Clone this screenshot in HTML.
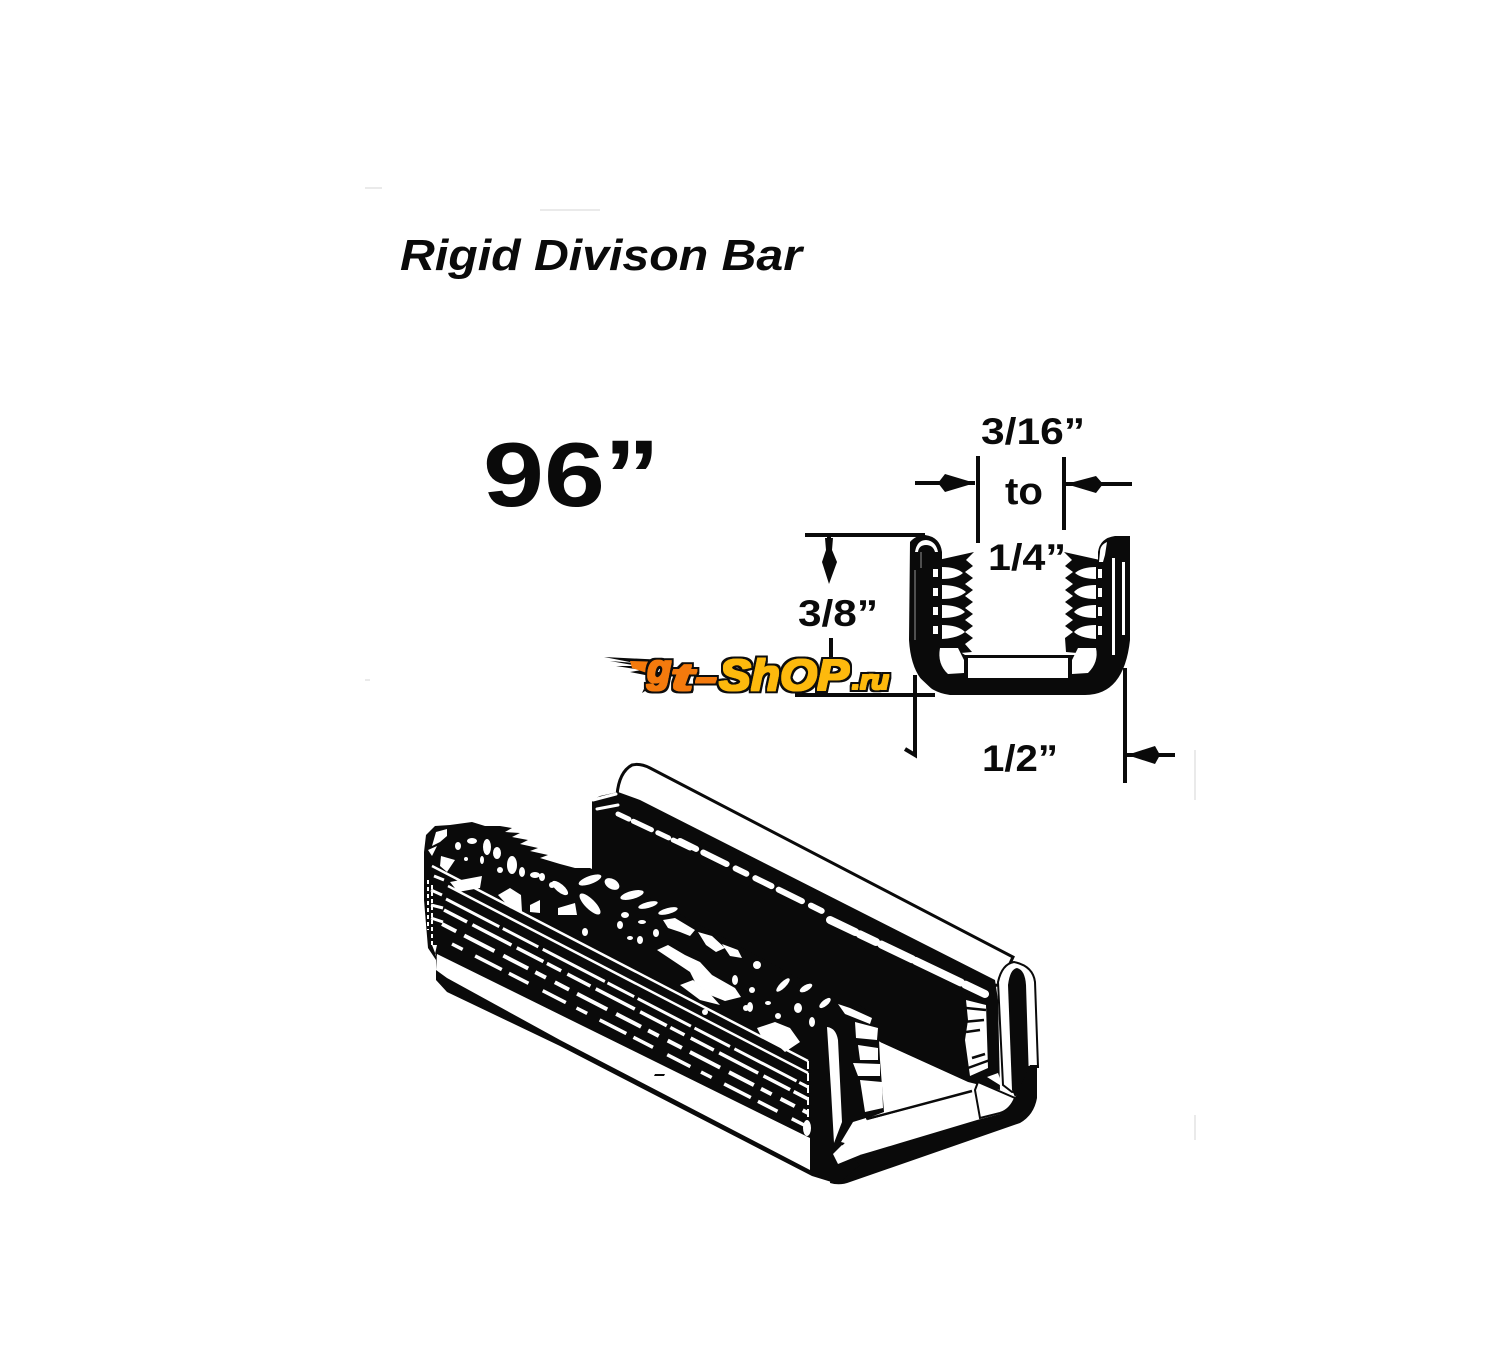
<!DOCTYPE html>
<html><head><meta charset="utf-8"><style>
html,body{margin:0;padding:0;background:#fff;width:1500px;height:1350px;overflow:hidden}
svg{display:block}
text{font-family:"Liberation Sans",sans-serif;font-weight:bold;fill:#0a0a0a}
</style></head><body>
<svg width="1500" height="1350" viewBox="0 0 1500 1350" xmlns="http://www.w3.org/2000/svg">
<defs>
<filter id="logoText" filterUnits="userSpaceOnUse" x="620" y="640" width="290" height="70">
<feMorphology in="SourceGraphic" operator="dilate" radius="1" result="fat"/>
<feMorphology in="SourceAlpha" operator="dilate" radius="3" result="outline"/>
<feFlood flood-color="#0a0a0a"/>
<feComposite in2="outline" operator="in" result="edge"/>
<feMerge><feMergeNode in="edge"/><feMergeNode in="fat"/></feMerge>
</filter>
</defs>
<rect width="1500" height="1350" fill="#fff"/>
<g stroke="#e4e4e4" stroke-width="1.5" fill="none"><path d="M365 188H382M540 210H600M1195 750V800M1195 1115V1140M365 680H370"/></g>

<text x="400" y="270" font-size="44" font-style="italic" textLength="402" lengthAdjust="spacingAndGlyphs">Rigid Divison Bar</text>
<text x="483" y="506" font-size="91" textLength="122" lengthAdjust="spacingAndGlyphs">96</text>
<text x="604" y="510" font-size="100" textLength="56" lengthAdjust="spacingAndGlyphs">”</text>
<text x="981" y="444" font-size="37" textLength="104" lengthAdjust="spacingAndGlyphs">3/16”</text>
<text x="1005" y="504" font-size="38" textLength="38" lengthAdjust="spacingAndGlyphs">to</text>
<text x="988" y="570" font-size="37" textLength="78" lengthAdjust="spacingAndGlyphs">1/4”</text>
<text x="798" y="626" font-size="37" textLength="80" lengthAdjust="spacingAndGlyphs">3/8”</text>
<text x="982" y="771" font-size="37" textLength="76" lengthAdjust="spacingAndGlyphs">1/2”</text>

<!-- dimension lines -->
<g stroke="#0a0a0a" stroke-width="4" fill="none">
<path d="M915 483H975M978 456V543M1064 457V530M1132 484H1066"/>
<path d="M805 535H925M829 536V575M831 638V662M795 695H935"/>
<path d="M915 675V755L905 749M1125 668V783M1127 755H1175"/>
</g>
<g fill="#0a0a0a">
<path d="M975 483L945 474L938 483L945 492Z"/>
<path d="M1066 484L1096 476L1103 484L1096 493Z"/>
<path d="M829 584L822 562L826 550L825 538H833L832 550L837 562Z"/>
<path d="M1127 755L1155 746L1160 755L1155 764Z"/>
</g>

<!-- profile -->
<path d="M910 542Q916 535 925 535Q940 537 942 552L942 640L965 655H1075L1098 640L1098 552Q1100 538 1115 536L1130 536V640Q1124 695 1085 695H950Q912 690 909 640Z" fill="#0a0a0a"/>
<path d="M915 552Q917 540 926 540Q936 541 938 552L935 552Q933 545 926 545Q919 545 918 552Z" fill="#fff"/>
<path d="M921 552V568M915 570V640" stroke="#666" stroke-width="1.5" fill="none"/>
<path d="M938 560L974 552L966 560L973 566L965 572L973 578L965 584L973 590L965 596L973 602L965 608L973 614L965 620L973 626L965 632L973 638L965 644L972 652L938 655Z" fill="#0a0a0a"/>
<path d="M1100 560L1064 552L1072 560L1065 566L1073 572L1065 578L1073 584L1065 590L1073 596L1065 602L1073 608L1065 614L1073 620L1065 626L1073 632L1065 638L1066 652L1100 655Z" fill="#0a0a0a"/>
<g fill="#fff">
<path d="M942 567Q956 567 963 573Q956 579 942 579ZM942 585Q958 585 966 592Q958 599 942 599ZM942 605Q958 605 965 612Q958 618 942 618ZM942 625Q958 625 965 632Q958 638 942 639Z"/>
<path d="M1096 567Q1082 567 1075 573Q1082 579 1096 579ZM1096 585Q1080 585 1074 592Q1080 599 1096 599ZM1096 605Q1080 605 1074 612Q1080 618 1096 618ZM1096 625Q1080 625 1074 632Q1080 638 1096 639Z"/>
<path d="M933 569h5v8h-5zM933 588h5v8h-5zM933 607h5v8h-5zM933 626h5v8h-5z"/>
<path d="M1098 569h4v9h-4zM1098 588h4v9h-4zM1098 607h4v9h-4zM1098 626h4v9h-4z"/>
<path d="M940 648L958 648L964 660L964 673L948 674Q937 664 940 648Z"/>
<rect x="968" y="658" width="100" height="20"/>
<path d="M1072 660L1078 648L1096 648Q1099 662 1088 673L1072 674Z"/>
<path d="M1112 558h3V655h-3zM1122 562h3V635h-3zM1100 552Q1100 545 1107 542L1105 555L1103 562H1099Z"/>
<path d="M918 676L935 692L925 693Z"/>
</g>

<!-- logo: flame shape plus real, visible text -->
<path d="M604 657L665 660L655 672L668 672L662 680L642 693L650 676L630 672L642 670L616 666L638 666L610 661L635 663Z" fill="#0a0a0a"/>
<path d="M630 661L664 662L655 674L650 686L644 690L650 674L632 668Z" fill="#f47a0c"/>
<g font-style="italic" filter="url(#logoText)">
<text x="647" y="682" font-size="40" style="fill:#f47a0c">g</text>
<text x="670" y="690" font-size="38" textLength="48" lengthAdjust="spacingAndGlyphs" style="fill:#f47a0c">t-</text>
<text x="719" y="690" font-size="44" textLength="130" lengthAdjust="spacingAndGlyphs" style="fill:#fdb90a">ShOP</text>
<text x="852" y="689" font-size="27" textLength="37" lengthAdjust="spacingAndGlyphs" style="fill:#fdb90a">.ru</text>
</g>

<!-- main bar: back top tube -->
<path d="M617 795Q619 772 632 765Q640 763 650 768L1013 957L1000 985L700 1000Z" fill="#fff" stroke="#0a0a0a" stroke-width="3"/>
<!-- back wall black -->
<path d="M592 800L600 796L618 792L640 800L995 980L998 1000L1000 1090L968 1082L882 1043L592 875Z" fill="#0a0a0a"/>
<g stroke="#fff" fill="none" stroke-linecap="round">
<path d="M593 800L616 794M597 809L618 805" stroke-width="3"/>
<path d="M618 814L690 848" stroke-width="5" stroke-dasharray="12 5 20 7"/>
<path d="M680 841L830 915" stroke-width="6" stroke-dasharray="18 8 26 10 12 10"/>
<path d="M830 920L985 994" stroke-width="8" stroke-dasharray="28 5 18 6 34 4 50 5"/>
</g>
<path d="M966 1000L986 1005L988 1068L970 1076L965 1040L968 1020Z" fill="#fff"/>
<g stroke="#0a0a0a" stroke-width="2.5" fill="none"><path d="M966 1008L986 1010M963 1022L984 1020M966 1032L980 1030M968 1068L990 1060M972 1058L985 1054"/></g>
<!-- floor -->
<path d="M882 1043L972 1084L972 1092L867 1120Z" fill="#fff"/>
<path d="M867 1119L972 1091" stroke="#0a0a0a" stroke-width="2.5"/>
<path d="M868 1120L975 1092L977 1118L870 1152Z" fill="#fff"/>
<path d="M975 1090L978 1082L1015 1098Q1010 1110 1000 1113L980 1118Z" fill="#fff" stroke="#0a0a0a" stroke-width="2"/>
<path d="M987 1077L998 1073L1003 1087Z" fill="#fff"/>
<!-- right tube -->
<path d="M998 982Q1002 964 1014 962Q1033 966 1035 982L1038 1067H1028L1030 1090L1012 1092L1003 1085Z" fill="#fff" stroke="#0a0a0a" stroke-width="2"/>
<path d="M1008 985Q1010 969 1017 968Q1025 970 1026 985L1029 1080L1015 1097L1012 1090Z" fill="#0a0a0a"/>
<!-- bottom U -->
<path d="M832 1163L870 1152L977 1120L1000 1114Q1012 1108 1016 1096L1030 1065L1037 1065L1037 1098Q1034 1115 1020 1123L850 1182Q840 1186 830 1183Z" fill="#0a0a0a"/>
<!-- left wall black body -->
<path d="M424 852L426 835L435 826L450 825L472 822L485 826L500 826L512 828L505 832L520 833L512 837L528 840L520 844L538 848L530 851L548 855L540 858L560 864L575 868L590 868L640 893L700 925L780 968L833 997L860 1005L878 1020L880 1060L884 1112L868 1118L842 1146L860 1165L838 1184Q825 1180 812 1176L560 1046L447 992L436 980L436 960L428 948L424 900Z" fill="#0a0a0a"/>
<!-- front bottom band -->
<path d="M437 954L810 1138L810 1170L560 1040L447 978L436 970Z" fill="#fff"/>
<path d="M437 945L435 954L437 958L432 945Z" fill="#fff"/>
<g fill="#0a0a0a">
<path d="M660 1056l10 -2l8 6l-6 4zM672 1064l12 2l4 8l-10 -2zM700 1070l14 6l10 10l-14 -4zM655 1074l10 0l-1 2l-10 0zM725 1088l12 4l6 8l-10 -2z"/>
</g>
<!-- stripes -->
<g stroke="#fff" fill="none">
<path d="M432 866L808 1061" stroke-width="2.5"/>
<path d="M448 886L808 1073" stroke-width="2.5"/>
<path d="M446 899L808 1087" stroke-width="3" stroke-dasharray="60 4 40 5 70 3 30 4"/>
<path d="M444 910L808 1099" stroke-width="3.5" stroke-dasharray="26 6 44 6 30 4 16 7"/>
<path d="M442 924L808 1113" stroke-width="4" stroke-dasharray="16 9 34 10 28 8 12 10"/>
<path d="M452 944L808 1127" stroke-width="3.5" stroke-dasharray="12 14 30 8 22 16 26 12"/>
<path d="M432 885V945M428 880V930" stroke-width="2" stroke-dasharray="4 3"/>
<path d="M434 876L444 880M431 890L442 895M431 905L443 908M431 918L443 922" stroke-width="3"/>
<path d="M808 1061V1125" stroke-width="2" stroke-dasharray="8 4"/>
</g>
<!-- blotches -->
<g fill="#fff">
<path d="M432 846L436 832L447 829L447 836L440 842ZM428 850L437 846L432 856ZM441 856L455 860L447 872L440 866Z"/>
<path d="M450 882L482 876L480 888L458 892ZM498 895L510 888L521 895L522 912L510 908ZM530 905L540 900L540 913L530 912ZM558 908L575 903L577 915L558 915Z"/>
<ellipse cx="458" cy="846" rx="3" ry="4"/><ellipse cx="472" cy="841" rx="5" ry="3"/><ellipse cx="487" cy="847" rx="4" ry="8"/>
<ellipse cx="497" cy="853" rx="4" ry="6"/><ellipse cx="466" cy="859" rx="2" ry="2"/><ellipse cx="482" cy="860" rx="2" ry="4"/>
<ellipse cx="512" cy="865" rx="5" ry="9"/><ellipse cx="500" cy="870" rx="3" ry="3"/><ellipse cx="522" cy="872" rx="3" ry="5"/>
<ellipse cx="535" cy="875" rx="5" ry="3"/><ellipse cx="542" cy="877" rx="3" ry="4"/>
<ellipse cx="560" cy="888" rx="10" ry="4" transform="rotate(40 560 888)"/><ellipse cx="590" cy="904" rx="14" ry="5" transform="rotate(45 590 904)"/>
<ellipse cx="552" cy="885" rx="3" ry="3"/><ellipse cx="620" cy="925" rx="3" ry="4"/><ellipse cx="585" cy="932" rx="3" ry="4"/>
<ellipse cx="640" cy="940" rx="3" ry="4"/><ellipse cx="625" cy="915" rx="4" ry="3"/><ellipse cx="656" cy="933" rx="3" ry="4"/>
<ellipse cx="642" cy="922" rx="4" ry="2"/><ellipse cx="630" cy="938" rx="3" ry="2"/>
<ellipse cx="590" cy="880" rx="12" ry="4" transform="rotate(-20 590 880)"/><ellipse cx="612" cy="884" rx="8" ry="5" transform="rotate(30 612 884)"/>
<ellipse cx="632" cy="895" rx="12" ry="4" transform="rotate(-15 632 895)"/><ellipse cx="648" cy="905" rx="10" ry="3" transform="rotate(-15 648 905)"/>
<ellipse cx="668" cy="911" rx="10" ry="3" transform="rotate(-15 668 911)"/>
<path d="M663 920L675 918L695 930L690 936L680 932L668 928ZM698 932L712 936L725 948L716 952L706 945ZM722 944L738 950L742 958L730 956Z"/>
<path d="M657 950L668 945L685 955L700 962L712 975L735 988L741 997L725 1001L710 995L695 982L690 972L675 962Z"/>
<path d="M680 985L693 980L712 996L720 1005L700 1000Z"/>
<ellipse cx="705" cy="1012" rx="3" ry="3"/>
<path d="M757 1028L775 1022L790 1028L800 1042L785 1052L775 1043L762 1038Z"/>
<ellipse cx="783" cy="985" rx="9" ry="3" transform="rotate(-45 783 985)"/><ellipse cx="757" cy="965" rx="4" ry="4"/>
<ellipse cx="806" cy="988" rx="7" ry="3" transform="rotate(-30 806 988)"/><ellipse cx="825" cy="1003" rx="7" ry="3" transform="rotate(-40 825 1003)"/>
<ellipse cx="750" cy="1007" rx="3" ry="5"/><ellipse cx="798" cy="1008" rx="4" ry="5"/><ellipse cx="768" cy="1003" rx="3" ry="2"/>
<ellipse cx="746" cy="1008" rx="3" ry="3"/><ellipse cx="735" cy="980" rx="3" ry="5"/><ellipse cx="752" cy="990" rx="3" ry="3"/>
<ellipse cx="778" cy="1016" rx="3" ry="3"/><ellipse cx="812" cy="1022" rx="3" ry="5"/>
<ellipse cx="807" cy="1128" rx="4" ry="8"/>
<path d="M838 1004L850 1008L872 1018L870 1024L845 1014ZM855 1022L878 1028L877 1040L856 1038ZM858 1045L878 1048L878 1060L860 1060ZM853 1063L880 1064L880 1076L858 1076ZM860 1080L882 1082L883 1108L865 1112Z"/>
<path d="M827 1027Q836 1028 838 1040L842 1122L834 1143L831 1090Z"/>
<path d="M841 1142L853 1122L866 1118L868 1150L856 1146Z"/>
<path d="M833 1154L842 1145L860 1155L838 1164Z"/>
</g>
</svg>
</body></html>
